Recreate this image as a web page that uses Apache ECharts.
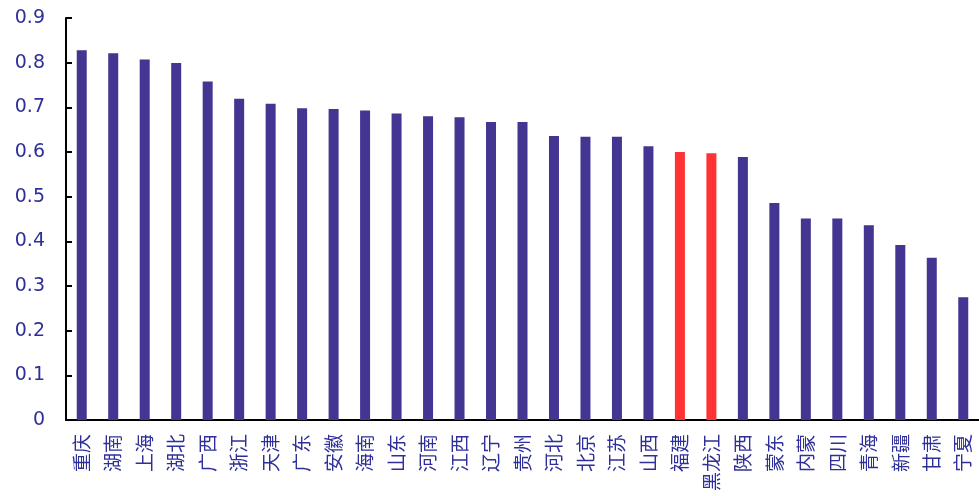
<!DOCTYPE html>
<html>
<head>
<meta charset="utf-8">
<script src="https://cdn.jsdelivr.net/npm/echarts@6/dist/echarts.min.js"></script>
<style>
  html, body { margin: 0; padding: 0; background: #fff; }
  #main { width: 979px; height: 496px; }
</style>
</head>
<body>
<div id="main"></div>
<script>
var provinces = ['重庆', '湖南', '上海', '湖北', '广西', '浙江', '天津', '广东', '安徽', '海南',
  '山东', '河南', '江西', '辽宁', '贵州', '河北', '北京', '江苏', '山西', '福建',
  '黑龙江', '陕西', '蒙东', '内蒙', '四川', '青海', '新疆', '甘肃', '宁夏'];
var scores = [0.828, 0.821, 0.807, 0.799, 0.758, 0.719, 0.708, 0.698, 0.696, 0.693,
  0.686, 0.680, 0.678, 0.667, 0.667, 0.636, 0.634, 0.634, 0.613, 0.600,
  0.597, 0.589, 0.486, 0.451, 0.451, 0.436, 0.392, 0.363, 0.275];
var highlighted = ['福建', '黑龙江'];

var myChart = echarts.init(document.getElementById('main'));

var barData = [];
for (var i = 0; i < provinces.length; i++) {
  var isRed = highlighted.indexOf(provinces[i]) >= 0;
  barData.push({
    value: scores[i],
    itemStyle: { color: isRed ? '#ff3333' : '#433592' }
  });
}

var option = {
  animation: false,
  grid: { left: 66, top: 18, bottom: 76, right: -4 },
  xAxis: {
    type: 'category',
    data: provinces,
    axisLine: { lineStyle: { color: '#000', width: 2 } },
    axisTick: { inside: true, length: 5, lineStyle: { color: '#000', width: 2 } },
    axisLabel: {
      rotate: 90,
      margin: 14,
      interval: 0,
      color: '#2f2f9a',
      fontSize: 19,
      fontFamily: 'Noto Sans CJK SC'
    }
  },
  yAxis: {
    type: 'value',
    min: 0,
    max: 0.9,
    interval: 0.1,
    splitLine: { show: false },
    axisLine: { show: true, lineStyle: { color: '#000', width: 2 } },
    axisTick: { show: true, inside: true, length: 6, lineStyle: { color: '#000', width: 2 } },
    axisLabel: {
      margin: 21,
      color: '#2f2f9a',
      fontSize: 19,
      fontFamily: 'DejaVu Sans',
      formatter: function (v) {
        return v === 0 ? '0' : v.toFixed(1);
      }
    }
  },
  series: [
    {
      type: 'bar',
      data: barData,
      barWidth: 10
    }
  ]
};

myChart.setOption(option);
</script>
</body>
</html>
